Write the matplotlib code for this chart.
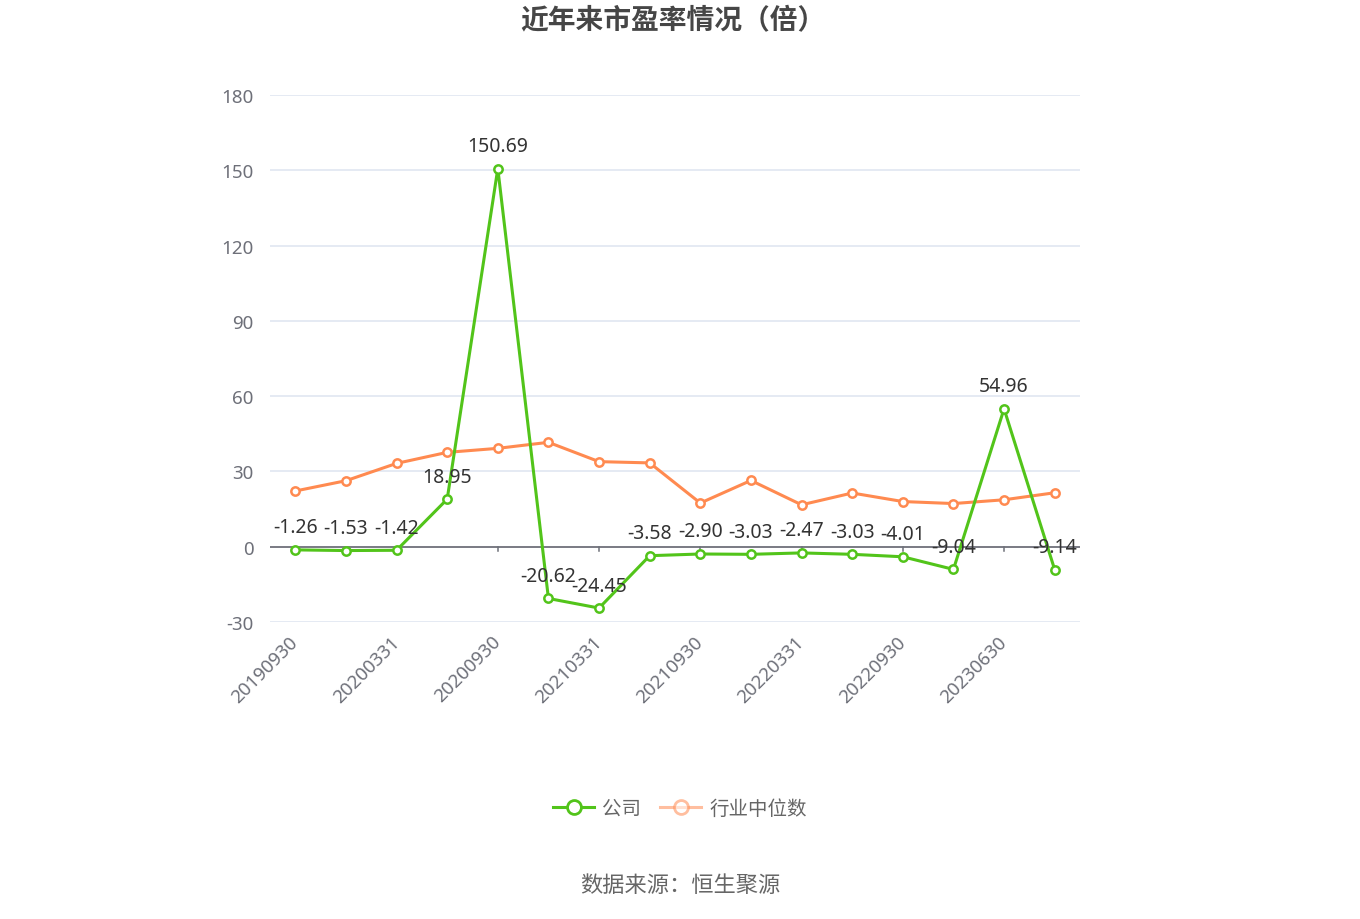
"""PE ratio trend chart: company vs industry median."""

import matplotlib
matplotlib.use("Agg")
import matplotlib.pyplot as plt
from matplotlib.lines import Line2D

plt.rcParams["font.family"] = ["Noto Sans", "Noto Sans CJK SC", "DejaVu Sans"]
plt.rcParams["axes.unicode_minus"] = False

dates = [
    "20190930", "20191231", "20200331", "20200630", "20200930", "20201231",
    "20210331", "20210630", "20210930", "20211231", "20220331", "20220630",
    "20220930", "20230331", "20230630", "20230930",
]
company_pe = [-1.26, -1.53, -1.42, 18.95, 150.69, -20.62, -24.45, -3.58,
              -2.90, -3.03, -2.47, -3.03, -4.01, -9.04, 54.96, -9.14]
industry_pe = [22.2, 26.3, 33.2, 37.6, 39.2, 41.6, 33.9, 33.4,
               17.4, 26.4, 16.7, 21.4, 18.0, 17.2, 18.7, 21.5]
y_ticks = [-30, 0, 30, 60, 90, 120, 150, 180]

GREEN = "#52C41A"
ORANGE = "#FF8A50"
LABEL_GRAY = "#6E7079"

fig = plt.figure(figsize=(13.6, 9.2), dpi=100)
ax = fig.add_axes([270 / 1360, 1 - 623 / 920, 810 / 1360, (623 - 96) / 920])

x = list(range(len(dates)))

for y in y_ticks:
    if y != 0:
        ax.axhline(y, color="#E0E6F1", linewidth=1.2, zorder=0)
ax.axhline(0, color="#6E7079", linewidth=1.3, zorder=1)

# x-axis ticks sit on the zero line
for tick_x in x[::2]:
    ax.plot([tick_x, tick_x], [0, -1.8], color="#6E7079", linewidth=1.1, zorder=1)

marker_kw = dict(marker="o", markersize=6, markerfacecolor="white",
                 markeredgewidth=1.8, linewidth=2.2)
ax.plot(x, industry_pe, color=ORANGE, markeredgecolor=ORANGE, zorder=3, **marker_kw)
ax.plot(x, company_pe, color=GREEN, markeredgecolor=GREEN, zorder=4, **marker_kw)

for xi, v in zip(x, company_pe):
    ax.annotate(f"{v:.2f}", (xi, v), xytext=(0, 9), textcoords="offset points",
                ha="center", va="bottom", fontsize=14, color="#333333", zorder=5)

ax.set_xlim(-0.5, len(dates) - 0.5)
ax.set_ylim(-30, 180)
ax.set_yticks(y_ticks)
ax.set_yticklabels([str(t) for t in y_ticks], color=LABEL_GRAY, fontsize=13.5)
ax.tick_params(axis="y", length=0, pad=12)

ax.set_xticks(x[::2])
ax.set_xticklabels(dates[::2], rotation=45, ha="right", va="center",
                   rotation_mode="anchor", color=LABEL_GRAY, fontsize=13.5)
ax.tick_params(axis="x", length=0, pad=12)
for spine in ax.spines.values():
    spine.set_visible(False)

fig.text(0.495, 1 - 22 / 920, "近年来市盈率情况（倍）", ha="center", va="center",
         fontsize=20, fontweight="bold", color="#464646")

handles = [
    Line2D([0], [0], color=GREEN, marker="o", markersize=10, markerfacecolor="white",
           markeredgewidth=2, linewidth=2.2),
    Line2D([0], [0], color=ORANGE, marker="o", markersize=10, markerfacecolor="white",
           markeredgewidth=2, linewidth=2.2, alpha=0.55),
]
fig.legend(handles, ["公司", "行业中位数"], loc="center", bbox_to_anchor=(0.5, 1 - 810 / 920),
           ncol=2, frameon=False, fontsize=14, labelcolor="#666666",
           handlelength=2.1, columnspacing=1.0, handletextpad=0.4)

fig.text(0.5, 1 - 887 / 920, "数据来源：恒生聚源", ha="center", va="center",
         fontsize=16, color="#666666")

fig.savefig("out.png", dpi=100)
